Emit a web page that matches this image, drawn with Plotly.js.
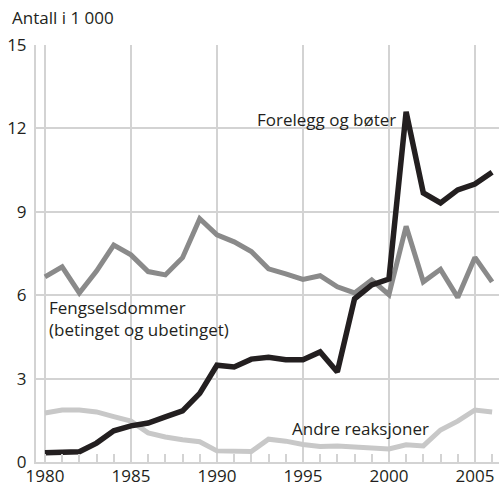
<!DOCTYPE html>
<html>
<head>
<meta charset="utf-8">
<script src="https://cdn.plot.ly/plotly-3.0.1.min.js"></script>
<style>html,body{margin:0;padding:0;background:#fff;}#chart{width:499px;height:487px;}</style>
</head>
<body>
<div id="chart"></div>
<script>
var years = [1980,1981,1982,1983,1984,1985,1986,1987,1988,1989,1990,1991,1992,1993,1994,1995,1996,1997,1998,1999,2000,2001,2002,2003,2004,2005,2006];
var forelegg = [0.33,0.36,0.37,0.68,1.12,1.3,1.4,1.62,1.84,2.47,3.48,3.42,3.7,3.77,3.68,3.68,3.96,3.24,5.87,6.37,6.58,12.6,9.68,9.32,9.79,10.0,10.42];
var fengsel = [6.66,7.02,6.08,6.87,7.8,7.45,6.85,6.73,7.35,8.75,8.17,7.92,7.57,6.95,6.77,6.57,6.7,6.3,6.08,6.55,6.02,8.48,6.48,6.93,5.92,7.36,6.48];
var andre = [1.76,1.87,1.87,1.8,1.63,1.47,1.05,0.9,0.8,0.73,0.4,0.38,0.38,0.82,0.75,0.63,0.56,0.58,0.55,0.52,0.47,0.62,0.58,1.15,1.47,1.87,1.8];
var yTicks = [0,3,6,9,12,15];
var xTicks = [1980,1985,1990,1995,2000,2005];

var font = "'Open Sans', 'Noto Sans', sans-serif";
var grid = '#d3d3d3';
var txt = '#231f20';
var fs = 17;

var traces = [
  {x: years, y: andre, type: 'scatter', mode: 'lines', line: {color: '#c8c8c8', width: 5}, cliponaxis: false},
  {x: years, y: fengsel, type: 'scatter', mode: 'lines', line: {color: '#8a8a8a', width: 5}, cliponaxis: false},
  {x: years, y: forelegg, type: 'scatter', mode: 'lines', line: {color: txt, width: 5.5}, cliponaxis: false}
];

var layout = {
  width: 499, height: 487,
  margin: {l: 36, r: 0, t: 45, b: 25},
  showlegend: false,
  paper_bgcolor: '#fff', plot_bgcolor: '#fff',
  font: {family: font, size: fs, color: txt},
  xaxis: {
    range: [1979.48, 2006.4],
    tickvals: xTicks, ticktext: xTicks.map(String),
    showgrid: true, gridcolor: grid, gridwidth: 2,
    zeroline: false,
    showline: true, linecolor: grid, linewidth: 2,
    ticks: 'inside', ticklen: 8, tickcolor: grid, tickwidth: 2,
    minor: {dtick: 1, tick0: 1980, ticks: 'inside', ticklen: 8, tickcolor: grid, tickwidth: 2, showgrid: false},
    ticklabelstandoff: -2,
    tickfont: {family: font, size: fs, color: txt},
    fixedrange: true
  },
  yaxis: {
    range: [0, 15],
    tickvals: yTicks, ticktext: yTicks.map(String),
    showgrid: true, gridcolor: grid, gridwidth: 2,
    zeroline: false,
    showline: true, linecolor: grid, linewidth: 2,
    ticks: '', ticklabelstandoff: 4,
    tickfont: {family: font, size: fs, color: txt},
    fixedrange: true
  },
  annotations: [
    {xref: 'paper', yref: 'paper', x: -0.056, y: 1.065, xanchor: 'left', yanchor: 'middle', text: 'Antall i 1 000', showarrow: false, font: {family: font, size: fs, color: txt}},
    {xref: 'x', yref: 'y', x: 1980.15, y: 5.17, xanchor: 'left', yanchor: 'middle', align: 'left', borderpad: 0, text: 'Fengselsdommer<br>(betinget og ubetinget)', showarrow: false, font: {family: font, size: fs, color: txt}},
    {xref: 'x', yref: 'y', x: 2000.5, y: 12.31, xanchor: 'right', yanchor: 'middle', text: 'Forelegg og bøter', showarrow: false, font: {family: font, size: fs, color: txt}},
    {xref: 'x', yref: 'y', x: 1994.25, y: 1.22, xanchor: 'left', yanchor: 'middle', text: 'Andre reaksjoner', showarrow: false, font: {family: font, size: fs, color: txt}}
  ]
};

Plotly.newPlot('chart', traces, layout, {displayModeBar: false, staticPlot: true});
</script>
</body>
</html>
